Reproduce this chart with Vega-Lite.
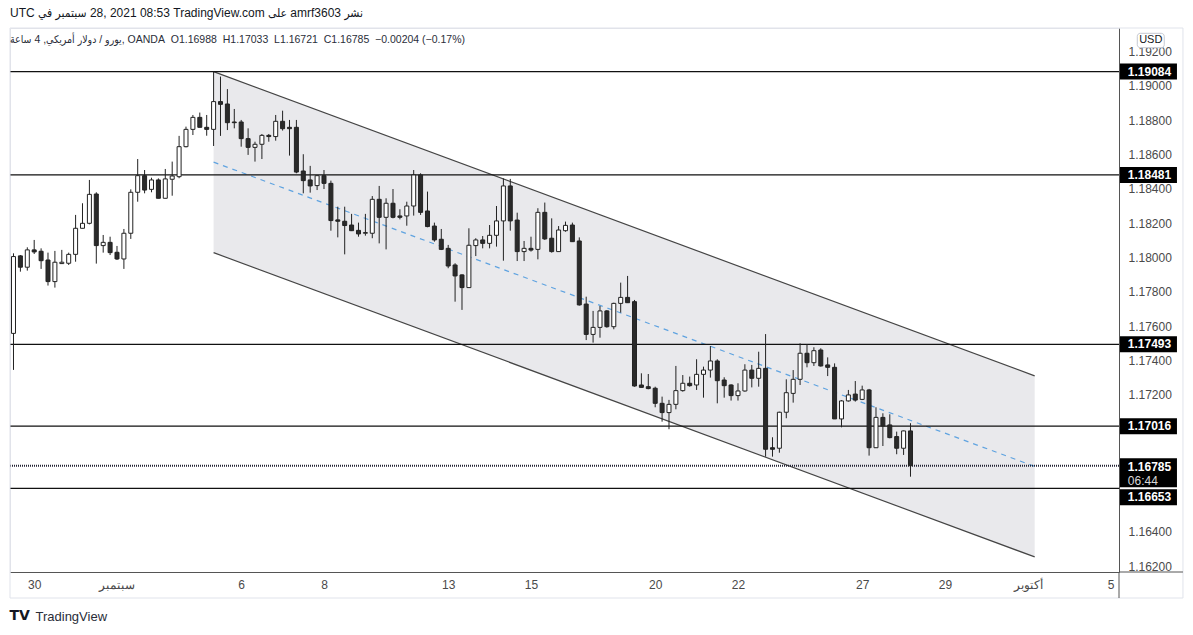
{
  "$schema": "https://vega.github.io/schema/vega-lite/v6.json",
  "width": 1109,
  "height": 544,
  "autosize": {"type": "none"},
  "padding": {"left": 10, "top": 28, "right": 74, "bottom": 63},
  "background": "white",
  "title": {
    "text": "UTC في\u200e سبتمبر\u200e 28, 2021 08:53 TradingView.com على amrf3603 نشر",
    "subtitle": "\u00a0يورو / دولار أمريكي, 4 ساعة, OANDA\u00a0 O1.16988\u00a0 H1.17033\u00a0 L1.16721\u00a0 C1.16785\u00a0 \u22120.00204 (\u22120.17%)",
    "anchor": "start",
    "frame": "group",
    "offset": -19,
    "font": "Liberation Sans, 'DejaVu Sans Condensed', 'DejaVu Sans'",
    "subtitleFont": "Liberation Sans, 'DejaVu Sans Condensed', 'DejaVu Sans'",
    "fontSize": 12,
    "fontWeight": "normal",
    "color": "#131722",
    "subtitleFontSize": 10.5,
    "subtitleColor": "#2a2e39",
    "subtitlePadding": 15
  },
  "datasets": {
    "candles": [
      {"i":0,"o":1.17557,"h":1.18024,"l":1.17344,"c":1.18005},
      {"i":1,"o":1.18009,"h":1.18014,"l":1.17917,"c":1.17943},
      {"i":2,"o":1.17943,"h":1.18059,"l":1.17923,"c":1.18044},
      {"i":3,"o":1.18044,"h":1.18102,"l":1.18020,"c":1.18032},
      {"i":4,"o":1.18036,"h":1.18053,"l":1.17933,"c":1.17981},
      {"i":5,"o":1.17985,"h":1.18028,"l":1.17836,"c":1.17859},
      {"i":6,"o":1.17859,"h":1.18038,"l":1.17824,"c":1.17972},
      {"i":7,"o":1.17964,"h":1.18044,"l":1.17962,"c":1.17972},
      {"i":8,"o":1.17966,"h":1.18028,"l":1.17956,"c":1.18018},
      {"i":9,"o":1.18018,"h":1.18248,"l":1.17975,"c":1.18170},
      {"i":10,"o":1.18170,"h":1.18316,"l":1.18170,"c":1.18199},
      {"i":11,"o":1.18199,"h":1.18452,"l":1.18193,"c":1.18368},
      {"i":12,"o":1.18370,"h":1.18380,"l":1.17964,"c":1.18069},
      {"i":13,"o":1.18069,"h":1.18131,"l":1.18028,"c":1.18088},
      {"i":14,"o":1.18088,"h":1.18121,"l":1.18014,"c":1.18028},
      {"i":15,"o":1.18030,"h":1.18067,"l":1.17985,"c":1.17991},
      {"i":16,"o":1.17991,"h":1.18166,"l":1.17933,"c":1.18141},
      {"i":17,"o":1.18141,"h":1.18397,"l":1.18108,"c":1.18380},
      {"i":18,"o":1.18380,"h":1.18574,"l":1.18325,"c":1.18477},
      {"i":19,"o":1.18477,"h":1.18510,"l":1.18374,"c":1.18393},
      {"i":20,"o":1.18397,"h":1.18465,"l":1.18380,"c":1.18452},
      {"i":21,"o":1.18452,"h":1.18461,"l":1.18345,"c":1.18345},
      {"i":22,"o":1.18345,"h":1.18516,"l":1.18345,"c":1.18458},
      {"i":23,"o":1.18456,"h":1.18559,"l":1.18360,"c":1.18475},
      {"i":24,"o":1.18471,"h":1.18709,"l":1.18462,"c":1.18646},
      {"i":25,"o":1.18646,"h":1.18763,"l":1.18642,"c":1.18747},
      {"i":26,"o":1.18747,"h":1.18831,"l":1.18714,"c":1.18817},
      {"i":27,"o":1.18817,"h":1.18845,"l":1.18759,"c":1.18759},
      {"i":28,"o":1.18759,"h":1.18831,"l":1.18710,"c":1.18747},
      {"i":29,"o":1.18747,"h":1.19084,"l":1.18650,"c":1.18909},
      {"i":30,"o":1.18909,"h":1.19055,"l":1.18709,"c":1.18893},
      {"i":31,"o":1.18895,"h":1.18982,"l":1.18743,"c":1.18786},
      {"i":32,"o":1.18790,"h":1.18866,"l":1.18753,"c":1.18786},
      {"i":33,"o":1.18790,"h":1.18802,"l":1.18646,"c":1.18693},
      {"i":34,"o":1.18693,"h":1.18753,"l":1.18598,"c":1.18642},
      {"i":35,"o":1.18642,"h":1.18675,"l":1.18559,"c":1.18660},
      {"i":36,"o":1.18660,"h":1.18720,"l":1.18574,"c":1.18712},
      {"i":37,"o":1.18712,"h":1.18720,"l":1.18675,"c":1.18705},
      {"i":38,"o":1.18705,"h":1.18831,"l":1.18681,"c":1.18794},
      {"i":39,"o":1.18794,"h":1.18856,"l":1.18740,"c":1.18751},
      {"i":40,"o":1.18759,"h":1.18802,"l":1.18594,"c":1.18751},
      {"i":41,"o":1.18759,"h":1.18802,"l":1.18491,"c":1.18498},
      {"i":42,"o":1.18504,"h":1.18602,"l":1.18374,"c":1.18448},
      {"i":43,"o":1.18452,"h":1.18534,"l":1.18378,"c":1.18417},
      {"i":44,"o":1.18419,"h":1.18481,"l":1.18393,"c":1.18477},
      {"i":45,"o":1.18477,"h":1.18510,"l":1.18399,"c":1.18432},
      {"i":46,"o":1.18432,"h":1.18448,"l":1.18156,"c":1.18215},
      {"i":47,"o":1.18219,"h":1.18296,"l":1.18117,"c":1.18211},
      {"i":48,"o":1.18211,"h":1.18296,"l":1.18018,"c":1.18186},
      {"i":49,"o":1.18189,"h":1.18254,"l":1.18154,"c":1.18156},
      {"i":50,"o":1.18158,"h":1.18203,"l":1.18121,"c":1.18137},
      {"i":51,"o":1.18141,"h":1.18254,"l":1.18127,"c":1.18145},
      {"i":52,"o":1.18141,"h":1.18358,"l":1.18112,"c":1.18339},
      {"i":53,"o":1.18339,"h":1.18417,"l":1.18082,"c":1.18234},
      {"i":54,"o":1.18234,"h":1.18345,"l":1.18047,"c":1.18316},
      {"i":55,"o":1.18316,"h":1.18399,"l":1.18228,"c":1.18234},
      {"i":56,"o":1.18242,"h":1.18281,"l":1.18222,"c":1.18234},
      {"i":57,"o":1.18242,"h":1.18325,"l":1.18185,"c":1.18300},
      {"i":58,"o":1.18300,"h":1.18510,"l":1.18244,"c":1.18481},
      {"i":59,"o":1.18481,"h":1.18491,"l":1.18248,"c":1.18263},
      {"i":60,"o":1.18271,"h":1.18384,"l":1.18176,"c":1.18180},
      {"i":61,"o":1.18183,"h":1.18203,"l":1.18092,"c":1.18102},
      {"i":62,"o":1.18106,"h":1.18166,"l":1.18043,"c":1.18047},
      {"i":63,"o":1.18053,"h":1.18073,"l":1.17937,"c":1.17950},
      {"i":64,"o":1.17956,"h":1.17966,"l":1.17742,"c":1.17892},
      {"i":65,"o":1.17898,"h":1.17902,"l":1.17694,"c":1.17824},
      {"i":66,"o":1.17824,"h":1.18170,"l":1.17824,"c":1.18071},
      {"i":67,"o":1.18069,"h":1.18112,"l":1.18008,"c":1.18102},
      {"i":68,"o":1.18102,"h":1.18125,"l":1.18053,"c":1.18082},
      {"i":69,"o":1.18082,"h":1.18189,"l":1.18053,"c":1.18129},
      {"i":70,"o":1.18129,"h":1.18300,"l":1.18063,"c":1.18213},
      {"i":71,"o":1.18213,"h":1.18461,"l":1.17981,"c":1.18417},
      {"i":72,"o":1.18417,"h":1.18458,"l":1.18156,"c":1.18213},
      {"i":73,"o":1.18218,"h":1.18261,"l":1.17979,"c":1.18034},
      {"i":74,"o":1.18034,"h":1.18096,"l":1.17979,"c":1.18053},
      {"i":75,"o":1.18053,"h":1.18121,"l":1.18034,"c":1.18043},
      {"i":76,"o":1.18047,"h":1.18287,"l":1.17989,"c":1.18263},
      {"i":77,"o":1.18263,"h":1.18320,"l":1.18102,"c":1.18108},
      {"i":78,"o":1.18112,"h":1.18228,"l":1.18028,"c":1.18034},
      {"i":79,"o":1.18034,"h":1.18183,"l":1.18034,"c":1.18160},
      {"i":80,"o":1.18156,"h":1.18209,"l":1.18150,"c":1.18187},
      {"i":81,"o":1.18189,"h":1.18203,"l":1.18092,"c":1.18092},
      {"i":82,"o":1.18096,"h":1.18117,"l":1.17719,"c":1.17723},
      {"i":83,"o":1.17728,"h":1.17771,"l":1.17518,"c":1.17551},
      {"i":84,"o":1.17551,"h":1.17688,"l":1.17503,"c":1.17592},
      {"i":85,"o":1.17592,"h":1.17717,"l":1.17532,"c":1.17688},
      {"i":86,"o":1.17688,"h":1.17693,"l":1.17590,"c":1.17596},
      {"i":87,"o":1.17596,"h":1.17736,"l":1.17581,"c":1.17732},
      {"i":88,"o":1.17732,"h":1.17853,"l":1.17678,"c":1.17767},
      {"i":89,"o":1.17767,"h":1.17892,"l":1.17736,"c":1.17736},
      {"i":90,"o":1.17742,"h":1.17752,"l":1.17246,"c":1.17250},
      {"i":91,"o":1.17256,"h":1.17324,"l":1.17242,"c":1.17242},
      {"i":92,"o":1.17246,"h":1.17320,"l":1.17231,"c":1.17235},
      {"i":93,"o":1.17237,"h":1.17246,"l":1.17126,"c":1.17149},
      {"i":94,"o":1.17149,"h":1.17188,"l":1.17042,"c":1.17095},
      {"i":95,"o":1.17095,"h":1.17169,"l":1.16998,"c":1.17143},
      {"i":96,"o":1.17143,"h":1.17367,"l":1.17114,"c":1.17223},
      {"i":97,"o":1.17223,"h":1.17314,"l":1.17217,"c":1.17266},
      {"i":98,"o":1.17266,"h":1.17305,"l":1.17246,"c":1.17252},
      {"i":99,"o":1.17256,"h":1.17406,"l":1.17227,"c":1.17318},
      {"i":100,"o":1.17318,"h":1.17363,"l":1.17182,"c":1.17343},
      {"i":101,"o":1.17343,"h":1.17483,"l":1.17299,"c":1.17396},
      {"i":102,"o":1.17396,"h":1.17406,"l":1.17149,"c":1.17281},
      {"i":103,"o":1.17285,"h":1.17301,"l":1.17182,"c":1.17252},
      {"i":104,"o":1.17256,"h":1.17260,"l":1.17165,"c":1.17194},
      {"i":105,"o":1.17194,"h":1.17266,"l":1.17165,"c":1.17221},
      {"i":106,"o":1.17221,"h":1.17377,"l":1.17217,"c":1.17343},
      {"i":107,"o":1.17343,"h":1.17373,"l":1.17242,"c":1.17295},
      {"i":108,"o":1.17295,"h":1.17450,"l":1.17246,"c":1.17353},
      {"i":109,"o":1.17353,"h":1.17553,"l":1.16838,"c":1.16881},
      {"i":110,"o":1.16890,"h":1.16951,"l":1.16838,"c":1.16881},
      {"i":111,"o":1.16887,"h":1.17100,"l":1.16861,"c":1.17097},
      {"i":112,"o":1.17097,"h":1.17289,"l":1.17062,"c":1.17211},
      {"i":113,"o":1.17207,"h":1.17343,"l":1.17153,"c":1.17289},
      {"i":114,"o":1.17289,"h":1.17499,"l":1.17256,"c":1.17441},
      {"i":115,"o":1.17441,"h":1.17495,"l":1.17359,"c":1.17386},
      {"i":116,"o":1.17386,"h":1.17476,"l":1.17367,"c":1.17456},
      {"i":117,"o":1.17460,"h":1.17470,"l":1.17363,"c":1.17367},
      {"i":118,"o":1.17373,"h":1.17417,"l":1.17308,"c":1.17359},
      {"i":119,"o":1.17359,"h":1.17382,"l":1.17058,"c":1.17058},
      {"i":120,"o":1.17058,"h":1.17168,"l":1.17009,"c":1.17163},
      {"i":121,"o":1.17163,"h":1.17227,"l":1.17159,"c":1.17198},
      {"i":122,"o":1.17203,"h":1.17279,"l":1.17159,"c":1.17168},
      {"i":123,"o":1.17172,"h":1.17252,"l":1.17168,"c":1.17227},
      {"i":124,"o":1.17227,"h":1.17233,"l":1.16844,"c":1.16890},
      {"i":125,"o":1.16890,"h":1.17126,"l":1.16890,"c":1.17067},
      {"i":126,"o":1.17067,"h":1.17091,"l":1.16900,"c":1.17017},
      {"i":127,"o":1.17023,"h":1.17085,"l":1.16945,"c":1.16949},
      {"i":128,"o":1.16955,"h":1.16984,"l":1.16852,"c":1.16887},
      {"i":129,"o":1.16887,"h":1.16990,"l":1.16848,"c":1.16988},
      {"i":130,"o":1.16988,"h":1.17033,"l":1.16721,"c":1.16785}
    ],
    "channel": [
      {"i":29,"up":1.19084,"lo":1.18028,"mid":1.18556},
      {"i":148,"up":1.17309,"lo":1.16253,"mid":1.16781}
    ],
    "levels": [
      {"p":1.19084},{"p":1.18481},{"p":1.17493},{"p":1.17016},{"p":1.16653}
    ],
    "current": [{"p":1.16785,"t":"06:44"}]
  },
  "layer": [
    {
      "data": {"name": "channel"},
      "mark": {"type": "area", "fill": "#e9e9ec", "opacity": 1},
      "encoding": {
        "x": {"field": "i", "type": "quantitative",
          "scale": {"domain": [-0.507, 160.22], "nice": false, "zero": false, "padding": 0},
          "axis": {
            "values": [3,15,33,45,63,75,93,105,123,135,147,159],
            "labelExpr": "datum.value==3?'30':datum.value==15?'سبتمبر':datum.value==33?'6':datum.value==45?'8':datum.value==63?'13':datum.value==75?'15':datum.value==93?'20':datum.value==105?'22':datum.value==123?'27':datum.value==135?'29':datum.value==147?'أكتوبر':'5'",
            "title": "TradingView",
            "titleX": 25, "titleY": 44, "titleAlign": "left", "titleBaseline": "middle",
            "titleFontSize": 13, "titleFontWeight": "normal", "titleColor": "#2a2e39",
            "grid": false, "ticks": false, "domain": true, "domainColor": "#555555", "domainWidth": 1,
            "labelFontSize": 12, "labelColor": "#4a4a4a", "labelPadding": 7,
            "labelFlush": false, "labelOverlap": false
          }
        },
        "y": {"field": "up", "type": "quantitative",
          "scale": {"domain": [1.161651, 1.193383], "nice": false, "zero": false},
          "axis": {
            "orient": "right",
            "values": [1.162,1.164,1.172,1.174,1.176,1.178,1.180,1.182,1.184,1.186,1.188,1.190,1.192],
            "format": ".5f",
            "title": null,
            "grid": false, "ticks": false, "domain": true, "domainColor": "#555555", "domainWidth": 1,
            "labelFontSize": 12, "labelColor": "#4a4a4a", "labelPadding": 9,
            "labelAlign": "left", "labelBaseline": "middle", "labelOverlap": false, "labelFlush": false
          }
        },
        "y2": {"field": "lo"}
      }
    },
    {
      "data": {"name": "channel"},
      "mark": {"type": "line", "stroke": "#454545", "strokeWidth": 1.2},
      "encoding": {
        "x": {"field": "i", "type": "quantitative"},
        "y": {"field": "up", "type": "quantitative"}
      }
    },
    {
      "data": {"name": "channel"},
      "mark": {"type": "line", "stroke": "#454545", "strokeWidth": 1.2},
      "encoding": {
        "x": {"field": "i", "type": "quantitative"},
        "y": {"field": "lo", "type": "quantitative"}
      }
    },
    {
      "data": {"name": "channel"},
      "mark": {"type": "line", "stroke": "#5fa3e0", "strokeWidth": 1.2, "strokeDash": [5, 5]},
      "encoding": {
        "x": {"field": "i", "type": "quantitative"},
        "y": {"field": "mid", "type": "quantitative"}
      }
    },
    {
      "data": {"name": "levels"},
      "mark": {"type": "rule", "stroke": "#111111", "strokeWidth": 1.2},
      "encoding": {
        "y": {"field": "p", "type": "quantitative"}
      }
    },
    {
      "data": {"name": "current"},
      "mark": {"type": "rule", "stroke": "#222233", "strokeWidth": 2, "strokeDash": [1, 1]},
      "encoding": {
        "y": {"field": "p", "type": "quantitative"}
      }
    },
    {
      "data": {"name": "candles"},
      "mark": {"type": "rule", "stroke": "#222222", "strokeWidth": 1},
      "encoding": {
        "x": {"field": "i", "type": "quantitative"},
        "y": {"field": "l", "type": "quantitative"},
        "y2": {"field": "h"}
      }
    },
    {
      "data": {"name": "candles"},
      "mark": {"type": "bar", "width": 4, "stroke": "#222222", "strokeWidth": 1},
      "encoding": {
        "x": {"field": "i", "type": "quantitative"},
        "y": {"field": "o", "type": "quantitative"},
        "y2": {"field": "c"},
        "fill": {"condition": {"test": "datum.c >= datum.o", "value": "#ffffff"}, "value": "#2a2a2a"}
      }
    },
    {
      "data": {"values": [{"k": "frame"}]},
      "mark": {"type": "rect", "fill": "transparent", "stroke": "#e0e3eb", "strokeWidth": 1},
      "encoding": {
        "x": {"datum": -0.507, "type": "quantitative"},
        "x2": {"datum": 169.49},
        "y": {"datum": 1.160134, "type": "quantitative"},
        "y2": {"datum": 1.193383}
      }
    },
    {
      "data": {"values": [{"k": "axisline"}]},
      "mark": {"type": "rule", "stroke": "#555555", "strokeWidth": 1},
      "encoding": {
        "x": {"datum": 160.22, "type": "quantitative"},
        "x2": {"datum": 169.49},
        "y": {"datum": 1.161651, "type": "quantitative"}
      }
    },
    {
      "data": {"values": [{"k": "axisline"}]},
      "mark": {"type": "rule", "stroke": "#555555", "strokeWidth": 1},
      "encoding": {
        "x": {"datum": 160.22, "type": "quantitative"},
        "y": {"datum": 1.161651, "type": "quantitative"},
        "y2": {"datum": 1.160134}
      }
    },
    {
      "data": {"values": [{"k": "usd"}]},
      "mark": {"type": "rect", "fill": "#ffffff", "stroke": "#c5c9d2", "strokeWidth": 1, "cornerRadius": 3},
      "encoding": {
        "x": {"datum": 162.87, "type": "quantitative"},
        "x2": {"datum": 166.78},
        "y": {"datum": 1.193074, "type": "quantitative"},
        "y2": {"datum": 1.192234}
      }
    },
    {
      "data": {"values": [{"t": "USD"}]},
      "mark": {"type": "text", "align": "center", "baseline": "middle", "fill": "#131722", "fontSize": 11},
      "encoding": {
        "x": {"datum": 164.82, "type": "quantitative"},
        "y": {"datum": 1.192654, "type": "quantitative"},
        "text": {"field": "t"}
      }
    },
    {
      "data": {"name": "levels"},
      "transform": [{"filter": "datum.p > 1.167"}],
      "mark": {"type": "tick", "orient": "horizontal", "color": "#000000", "size": 57, "thickness": 16, "opacity": 1},
      "encoding": {
        "x": {"datum": 164.49, "type": "quantitative"},
        "y": {"field": "p", "type": "quantitative"}
      }
    },
    {
      "data": {"name": "levels"},
      "transform": [{"filter": "datum.p > 1.167"}],
      "mark": {"type": "text", "align": "left", "baseline": "middle", "fill": "#ffffff", "fontSize": 12, "fontWeight": "bold"},
      "encoding": {
        "x": {"datum": 161.5, "type": "quantitative"},
        "y": {"field": "p", "type": "quantitative"},
        "text": {"field": "p", "type": "quantitative", "format": ".5f"}
      }
    },
    {
      "data": {"name": "levels"},
      "transform": [{"filter": "datum.p < 1.167"}],
      "mark": {"type": "tick", "orient": "horizontal", "color": "#000000", "size": 57, "thickness": 16, "opacity": 1, "yOffset": 9},
      "encoding": {
        "x": {"datum": 164.49, "type": "quantitative"},
        "y": {"field": "p", "type": "quantitative"}
      }
    },
    {
      "data": {"name": "levels"},
      "transform": [{"filter": "datum.p < 1.167"}],
      "mark": {"type": "text", "align": "left", "baseline": "middle", "fill": "#ffffff", "fontSize": 12, "fontWeight": "bold", "yOffset": 9},
      "encoding": {
        "x": {"datum": 161.5, "type": "quantitative"},
        "y": {"field": "p", "type": "quantitative"},
        "text": {"field": "p", "type": "quantitative", "format": ".5f"}
      }
    },
    {
      "data": {"name": "current"},
      "mark": {"type": "tick", "orient": "horizontal", "color": "#000000", "size": 57, "thickness": 29, "opacity": 1, "yOffset": 7},
      "encoding": {
        "x": {"datum": 164.49, "type": "quantitative"},
        "y": {"field": "p", "type": "quantitative"}
      }
    },
    {
      "data": {"name": "current"},
      "mark": {"type": "text", "align": "left", "baseline": "middle", "fill": "#ffffff", "fontSize": 12, "fontWeight": "bold", "yOffset": 1},
      "encoding": {
        "x": {"datum": 161.5, "type": "quantitative"},
        "y": {"field": "p", "type": "quantitative"},
        "text": {"field": "p", "type": "quantitative", "format": ".5f"}
      }
    },
    {
      "data": {"name": "current"},
      "mark": {"type": "text", "align": "left", "baseline": "middle", "fill": "#d8d8d8", "fontSize": 12, "yOffset": 15},
      "encoding": {
        "x": {"datum": 161.5, "type": "quantitative"},
        "y": {"field": "p", "type": "quantitative"},
        "text": {"field": "t"}
      }
    },
    {
      "data": {"values": [{"logo": "TV"}]},
      "mark": {"type": "text", "align": "center", "baseline": "middle", "fill": "#131722", "fontSize": 14, "fontWeight": 900, "font": "DejaVu Sans"},
      "encoding": {
        "x": {"datum": 0.9, "type": "quantitative"},
        "y": {"datum": 1.15908, "type": "quantitative"},
        "text": {"field": "logo"}
      }
    }
  ],
  "config": {
    "font": "Liberation Sans",
    "view": {"stroke": "#e3e3e8"},
    "axis": {"labelOverlap": false},
    "axisY": {"labelOverlap": false},
    "axisRight": {"labelOverlap": false}
  }
}
